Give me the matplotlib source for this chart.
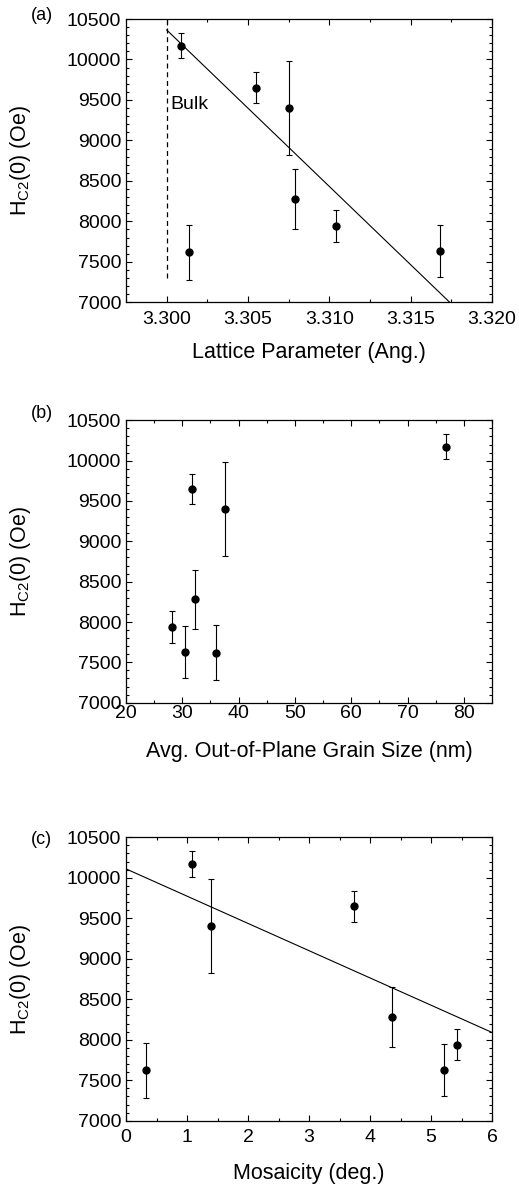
import numpy as np
import matplotlib
matplotlib.use('Agg')
import matplotlib.pyplot as plt
from matplotlib.ticker import MultipleLocator

plt.rcParams['font.family'] = ['Liberation Sans', 'DejaVu Sans']
plt.rcParams['mathtext.fontset'] = 'custom'
plt.rcParams['mathtext.rm'] = 'Liberation Sans'

# sample values
hc2 = [10170, 9650, 9400, 8280, 7940, 7630, 7620]
hc2_err = [155, 190, 580, 370, 195, 320, 340]
lattice = [3.3009, 3.3055, 3.3075, 3.3079, 3.3104, 3.3168, 3.3014]
grain = [76.9, 31.8, 37.6, 32.2, 28.1, 30.5, 36.0]
mosaic = [1.09, 3.73, 1.39, 4.36, 5.43, 5.22, 0.32]

# fit lines
fit_a_x = [3.300, 3.3174]
fit_a_y = [10365, 7000]
fit_c_x = [0, 6]
fit_c_y = [10110, 8090]
bulk_x = [3.300, 3.300]
bulk_y = [7300, 10500]

W, H = 519, 1186
fig = plt.figure(figsize=(W / 100, H / 100), dpi=100)

def box(top, bottom):
    return [126 / W, 1 - bottom / H, (492 - 126) / W, (bottom - top) / H]

ax_a = fig.add_axes(box(19, 302.3))
ax_b = fig.add_axes(box(420.3, 702.7))
ax_c = fig.add_axes(box(837.3, 1120.7))

ylab = r'H$_{\mathregular{C2}}$(0) (Oe)'

def style(ax, xmaj, xmin, pad):
    ax.set_ylim(7000, 10500)
    ax.yaxis.set_major_locator(MultipleLocator(500))
    ax.yaxis.set_minor_locator(MultipleLocator(100))
    ax.xaxis.set_major_locator(MultipleLocator(xmaj))
    ax.xaxis.set_minor_locator(MultipleLocator(xmin))
    ax.tick_params(which='both', direction='in', top=True, right=True, width=0.8)
    ax.tick_params(which='major', length=4, labelsize=14)
    ax.tick_params(which='minor', length=2)
    ax.tick_params(axis='x', pad=pad)
    for s in ax.spines.values():
        s.set_linewidth(0.9)
    ax.set_ylabel(ylab, fontsize=15.5)
    ax.yaxis.set_label_coords(-0.254, 0.5)

def points(ax, x):
    ax.errorbar(x, hc2, yerr=hc2_err, fmt='o', color='black', ms=5,
                capsize=2.5, elinewidth=0.8, capthick=0.8)

# (a)
points(ax_a, lattice)
ax_a.plot(fit_a_x, fit_a_y, color='black', lw=0.8)
ax_a.plot(bulk_x, bulk_y, color='black', lw=0.9, ls=(0, (4, 3)))
ax_a.text(3.3002, 9440, 'Bulk', fontsize=14, va='center', ha='left')
ax_a.set_xlim(3.2975, 3.320)
style(ax_a, 0.005, 0.0025, 6)
ax_a.xaxis.set_major_formatter(matplotlib.ticker.FormatStrFormatter('%.3f'))
ax_a.set_xlabel('Lattice Parameter (Ang.)', fontsize=15.5, labelpad=10)

# (b)
points(ax_b, grain)
ax_b.set_xlim(20, 85)
style(ax_b, 10, 5, 2)
ax_b.set_xlabel('Avg. Out-of-Plane Grain Size (nm)', fontsize=15.5, labelpad=13)

# (c)
points(ax_c, mosaic)
ax_c.plot(fit_c_x, fit_c_y, color='black', lw=0.8)
ax_c.set_xlim(0, 6)
style(ax_c, 1, 0.5, 6)
ax_c.set_xlabel('Mosaicity (deg.)', fontsize=15.5, labelpad=12)

for lab, y in [('(a)', 15), ('(b)', 413), ('(c)', 840)]:
    fig.text(31 / W, 1 - y / H, lab, fontsize=13, va='center', ha='left')

fig.savefig('out.png', dpi=100)
